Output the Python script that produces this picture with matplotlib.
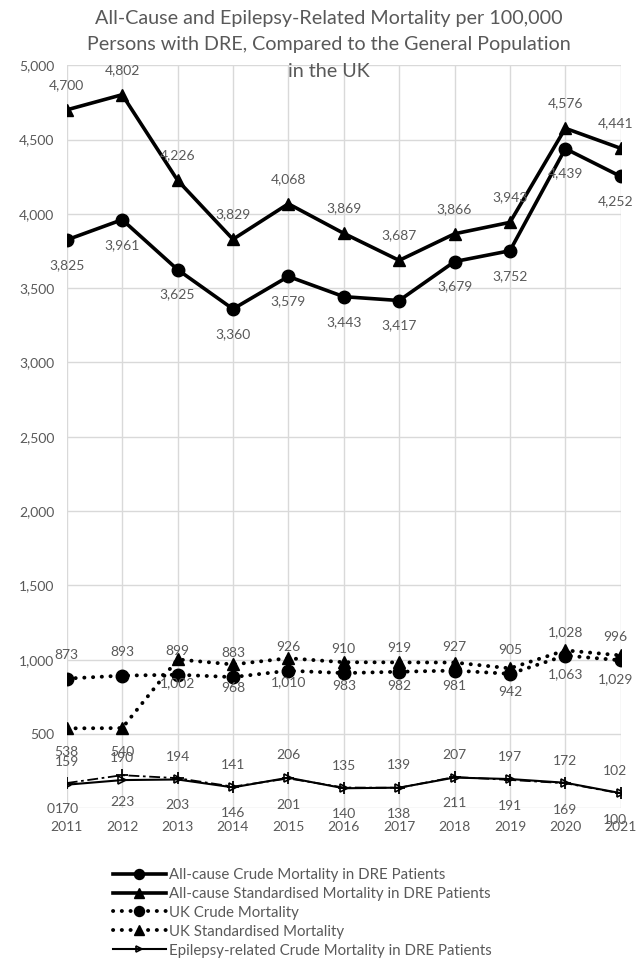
import matplotlib
matplotlib.use("Agg")
import matplotlib.pyplot as plt
from matplotlib.ticker import FuncFormatter, MultipleLocator

plt.rcParams['font.family'] = ['Lato', 'DejaVu Sans']

years = [2011, 2012, 2013, 2014, 2015, 2016, 2017, 2018, 2019, 2020, 2021]
crude_dre = [3825, 3961, 3625, 3360, 3579, 3443, 3417, 3679, 3752, 4439, 4252]
std_dre = [4700, 4802, 4226, 3829, 4068, 3869, 3687, 3866, 3943, 4576, 4441]
uk_crude = [873, 893, 899, 883, 926, 910, 919, 927, 905, 1028, 996]
uk_std = [538, 540, 1002, 968, 1010, 983, 982, 981, 942, 1063, 1029]
epi_crude = [159, 190, 194, 141, 206, 135, 139, 207, 197, 172, 102]
epi_std = [170, 223, 203, 146, 201, 140, 138, 211, 191, 169, 100]

labels = [
    "All-cause Crude Mortality in DRE Patients",
    "All-cause Standardised Mortality in DRE Patients",
    "UK Crude Mortality",
    "UK Standardised Mortality",
    "Epilepsy-related Crude Mortality in DRE Patients",
]
title = ("All-Cause and Epilepsy-Related Mortality per 100,000\n"
         "Persons with DRE, Compared to the General Population\n"
         "in the UK")

GREY = "#595959"
GRID = "#d9d9d9"

fig = plt.figure(figsize=(6.36, 9.6), dpi=100)
ax = fig.add_axes([0.105, 0.158, 0.871, 0.774])

dotted = (0, (0.05, 2.2))

l1, = ax.plot(years, crude_dre, color="black", lw=2.6, marker="o", ms=9,
              label=labels[0], zorder=4)
l2, = ax.plot(years, std_dre, color="black", lw=2.6, marker="^", ms=9,
              label=labels[1], zorder=4)
l3, = ax.plot(years, uk_crude, color="black", lw=2.8, ls=dotted, marker="o", ms=9,
              dash_capstyle="round", label=labels[2], zorder=4)
l4, = ax.plot(years, uk_std, color="black", lw=2.8, ls=dotted, marker="^", ms=9,
              dash_capstyle="round", label=labels[3], zorder=4)
l6, = ax.plot(years, epi_std, color="black", lw=1.3, ls=(0, (6, 2, 1.5, 2)),
              marker="+", ms=9, mew=1.3, zorder=4)
l5, = ax.plot(years, epi_crude, color="black", lw=1.5, marker=">", ms=6,
              mfc="none", mew=1.2, label=labels[4], zorder=5)


def lab(xs, ys, dy):
    for x, y in zip(xs, ys):
        dx = -4 if x == xs[-1] else 0
        ax.annotate(f"{y:,}", (x, y), xytext=(dx, dy), textcoords="offset points",
                    ha="center", va="center", fontsize=10, color=GREY,
                    zorder=6, annotation_clip=False)


lab(years, crude_dre, -18)
lab(years, std_dre, 18)
lab(years, uk_crude, 17)
lab(years, uk_std, -17)
lab(years, epi_crude, 16)
lab(years, epi_std, -19)

ax.set_xlim(2011, 2021)
ax.set_ylim(0, 5000)
ax.set_xticks(years)
ax.yaxis.set_major_locator(MultipleLocator(500))
ax.yaxis.set_major_formatter(FuncFormatter(lambda v, p: f"{int(v):,}"))
ax.grid(True, color=GRID, lw=1)
ax.set_axisbelow(True)
for s in ax.spines.values():
    s.set_visible(False)
ax.tick_params(length=0, labelsize=10, labelcolor=GREY)
ax.tick_params(axis="y", pad=9)
ax.tick_params(axis="x", pad=9)

fig.text(0.517, 0.99, title, ha="center", va="top", fontsize=14.2,
         color=GREY, linespacing=1.68)

leg = fig.legend(handles=[l1, l2, l3, l4, l5], loc="upper left",
                 bbox_to_anchor=(0.178, 0.096), frameon=False, fontsize=10.8,
                 handlelength=3.5, handletextpad=0.2, labelspacing=0.33,
                 borderaxespad=0, borderpad=0, numpoints=1, markerscale=0.8)
for t in leg.get_texts():
    t.set_color(GREY)

fig.savefig("out.png", dpi=100)
